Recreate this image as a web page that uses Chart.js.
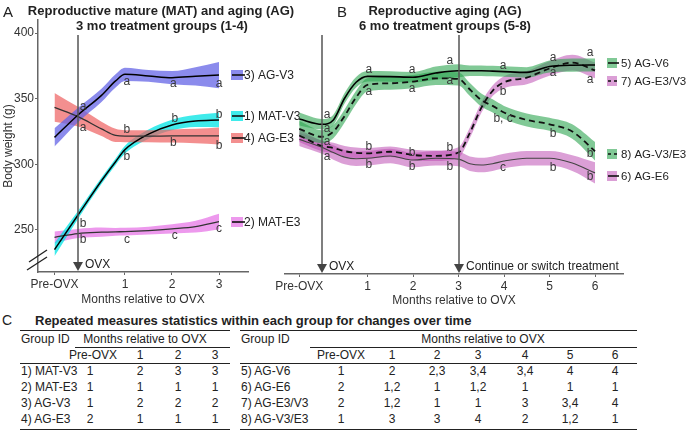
<!DOCTYPE html>
<html><head><meta charset="utf-8">
<script src="https://cdn.jsdelivr.net/npm/chart.js@4.4.1/dist/chart.umd.min.js"></script>
<style>
html,body{margin:0;padding:0;background:#fff;}
body{width:688px;height:432px;position:relative;overflow:hidden;font-family:"Liberation Sans",Arial,Helvetica,sans-serif;color:#222;}
.t{position:absolute;white-space:nowrap;line-height:14px;font-size:12px;}
.r{position:absolute;border-top:1.5px solid #222;height:0;}
canvas{position:absolute;top:0;}
</style></head><body>
<canvas id="cA" width="310" height="310" style="left:0px;width:310px;height:310px"></canvas>
<canvas id="cB" width="438" height="310" style="left:250px;width:438px;height:310px"></canvas>
<div id="txt"></div>
<script>
// ---------------- DATA ----------------
// Panel A (months relative to OVX; -0.5 = Pre-OVX)
const monthsA = [-0.5, 0, 0.5, 0.8, 1, 1.5, 2, 2.5, 3];
const agV3    = [320.5, 337.6, 352.5, 363.5, 368.5, 367.3, 366, 367, 368];
const agV3Err = [7, 5.5, 5, 5, 5, 4.5, 5, 7, 10];
const matV3    = [235, 261.4, 287.5, 302, 311.2, 323, 330, 333, 333.8];
const matV3Err = [5, 3, 2.5, 2.5, 3, 3.5, 4, 4.5, 5.5];
const agE3    = [343.4, 336.3, 327, 322, 321.4, 321.4, 321.6, 321.6, 321.6];
const agE3Err = [11, 7.5, 5.5, 5, 4.5, 4.5, 5, 5.5, 6.5];
const matE3    = [244.4, 247.3, 248.3, 248.6, 248.7, 249.5, 250.8, 252.5, 256.3];
const matE3Err = [4.5, 3.5, 3.5, 3, 3, 3, 3.5, 4.5, 6];
const xTicksA = [-0.5, 1, 2, 3];
const yTicks = [250, 300, 350, 400];

// Panel B
const monthsB = [-0.5, 0, 0.25, 0.5, 0.75, 1, 1.5, 2, 2.5, 3, 3.25, 3.5, 3.75, 4, 4.5, 5, 5.5, 6];
const agV6     = [334.5, 330.5, 333.8, 350.5, 362.5, 367, 366.8, 366.3, 369.5, 371.3, 371.3, 371.3, 371, 370.6, 370, 374.5, 375.5, 375.6];
const agV6Err  = [5, 4, 4, 4, 4, 4, 4, 4, 5, 5, 4, 4, 4, 4, 4, 4.5, 5, 5];
const agE3V3    = [322, 314, 312.5, 310, 308.8, 308.4, 309.6, 307.1, 306.5, 309, 324, 343, 356, 362.5, 366, 373, 377.4, 371.5];
const agE3V3Err = [5, 4, 4, 4, 4, 4, 4, 4, 4, 4, 4, 4, 4, 4.5, 5, 5.5, 6, 6];
const agV3E3    = [327, 321, 324.9, 337, 351, 360.5, 361.7, 363, 365.5, 365, 357, 349, 344.5, 339.5, 333.8, 330.5, 325, 310];
const agV3E3Err = [6, 5, 5, 5, 5, 5, 5, 5, 5, 5, 5, 5, 5, 5, 5, 5, 5.5, 7];
const agE6    = [319, 313, 309, 305.5, 304.3, 304.6, 306.4, 303.3, 304.6, 304, 300.5, 299.5, 300.5, 302.5, 304.6, 304.6, 301, 293.5];
const agE6Err = [5, 5, 5.5, 5.5, 5.5, 5.5, 5.5, 5.5, 5.5, 5.5, 5.5, 5.5, 5.5, 5.5, 5.5, 5.5, 6, 8];
const xTicksB = [-0.5, 1, 2, 3, 4, 5, 6];

// Significance letters [month, grams, text]
const lettersA = [
  [0.11,343.7,'a'],[1.04,362.7,'a'],[2.03,361.2,'a'],[3,361.2,'a'],
  [0.11,327.7,'a'],[1.04,326.1,'b'],[2.03,316.2,'b'],[3,314,'b'],
  [0.11,254.6,'b'],[1.04,305.6,'b'],[2.06,334.5,'b'],[3,337.6,'b'],
  [0.11,242.4,'b'],[1.04,242.4,'c'],[2.06,245.4,'c'],[3,250.8,'c']
];
const lettersB = [
  [0.11,337.6,'a'],[1.03,371.8,'a'],[1.98,371.8,'a'],[2.81,378.7,'a'],[3.98,374.9,'a'],[5.08,381,'a'],[5.89,384.8,'a'],
  [0.11,326.9,'a'],[1.03,355.1,'a'],[1.98,357.4,'a'],[2.81,363.5,'a'],[3.98,334.5,'b, c'],[5.08,323.1,'b'],[5.89,307.9,'b'],
  [0.11,317,'a'],[1.03,313.2,'b'],[1.98,308.6,'b'],[2.81,312.4,'b'],[3.98,355.1,'b'],[5.08,369.5,'a'],[5.89,364.2,'a'],
  [0.11,305.6,'a'],[1.03,299.5,'b'],[1.98,298,'b'],[2.81,298,'b'],[3.98,297.2,'c'],[5.08,297.2,'b'],[5.89,290.4,'b']
];

// Table C
const tblLeftGroups = ['1) MAT-V3','2) MAT-E3','3) AG-V3','4) AG-E3'];
const tblLeftCols = ['Pre-OVX','1','2','3'];
const tblLeftVals = [['1','2','3','3'],['1','1','1','1'],['1','2','2','2'],['2','1','1','1']];
const tblRightGroups = ['5) AG-V6','6) AG-E6','7) AG-E3/V3','8) AG-V3/E3'];
const tblRightCols = ['Pre-OVX','1','2','3','4','5','6'];
const tblRightVals = [
  ['1','2','2,3','3,4','3,4','4','4'],
  ['2','1,2','1','1,2','1','1','1'],
  ['2','1,2','1','1','3','3,4','4'],
  ['1','3','3','4','2','1,2','1']
];

// ---------------- STYLE ----------------
const FF = '"Liberation Sans", Arial, Helvetica, sans-serif';
const C_BLUE = 'rgba(100,100,230,0.75)';
const C_CYAN = 'rgba(0,228,228,0.75)';
const C_RED = 'rgba(238,95,95,0.7)';
const C_MAG = 'rgba(230,110,230,0.7)';
const C_GREEN = 'rgba(45,165,80,0.6)';
const C_PINK = 'rgba(190,80,180,0.55)';

function band(xs, mean, err, color, ls) {
  const common = {pointRadius:0, pointHoverRadius:0, cubicInterpolationMode:'monotone'};
  return [
    Object.assign({data: xs.map((m,i)=>({x:m, y:mean[i]+err[i]})), backgroundColor:color, borderColor:'rgba(0,0,0,0)', borderWidth:0, fill:'+1', order:2}, common),
    Object.assign({data: xs.map((m,i)=>({x:m, y:mean[i]-err[i]})), backgroundColor:color, borderColor:'rgba(0,0,0,0)', borderWidth:0, fill:false, order:2}, common),
    Object.assign({data: xs.map((m,i)=>({x:m, y:mean[i]})), borderColor:ls.color, borderWidth:ls.width, borderDash:ls.dash||[], fill:false, order:1}, common)
  ];
}

const annotPlugin = {
  id:'annot',
  afterDatasetsDraw(chart, args, o) {
    const {ctx, chartArea} = chart;
    const x = chart.scales.x, y = chart.scales.y;
    ctx.save();
    // arrows
    o.arrows.forEach(a => {
      const px = Math.round(x.getPixelForValue(a.m));
      const top = y.getPixelForValue(398.5);
      const bot = chartArea.bottom - 1;
      ctx.strokeStyle = '#555'; ctx.lineWidth = 1.5; ctx.setLineDash([]);
      ctx.beginPath(); ctx.moveTo(px, top); ctx.lineTo(px, bot - 8); ctx.stroke();
      ctx.fillStyle = '#444';
      ctx.beginPath(); ctx.moveTo(px - 5, bot - 9); ctx.lineTo(px + 5, bot - 9); ctx.lineTo(px, bot); ctx.closePath(); ctx.fill();
      ctx.fillStyle = '#222'; ctx.font = '12px ' + FF; ctx.textAlign = 'left'; ctx.textBaseline = 'middle';
      ctx.fillText(a.label, px + 7, bot - 6);
    });
    // letters
    ctx.font = '12px ' + FF; ctx.fillStyle = '#3a3a3a'; ctx.textAlign = 'center'; ctx.textBaseline = 'middle';
    o.letters.forEach(([m, v, t]) => ctx.fillText(t, x.getPixelForValue(m), y.getPixelForValue(v)));
    // legend
    o.legend.forEach(it => {
      ctx.fillStyle = it.color;
      ctx.fillRect(it.x, it.y - 5, it.w, 10);
      ctx.strokeStyle = '#111'; ctx.lineWidth = 1.6;
      ctx.setLineDash(it.dash ? [3, 3] : []);
      ctx.beginPath(); ctx.moveTo(it.x + 1, it.y); ctx.lineTo(it.x + it.w + 2, it.y); ctx.stroke();
      ctx.setLineDash([]);
      ctx.fillStyle = '#222'; ctx.textAlign = 'left'; ctx.textBaseline = 'middle';
      ctx.font = (it.fs || 12) + 'px ' + FF;
      ctx.fillText(it.text, it.x + it.w + it.gap, it.y + 0.5);
    });
    // axis break marks
    if (o.breakMarks) {
      ctx.strokeStyle = '#222'; ctx.lineWidth = 1.3;
      ctx.beginPath(); ctx.moveTo(29, 262); ctx.lineTo(47, 250); ctx.stroke();
      ctx.beginPath(); ctx.moveTo(27, 270); ctx.lineTo(47, 257); ctx.stroke();
    }
    ctx.restore();
  }
};

function axisX(ticks, min, max, h, pb) {
  return {
    type:'linear', min, max,
    afterBuildTicks: s => { s.ticks = ticks.map(v => ({value:v})); },
    afterFit: s => { s.height = h; },
    ticks: {autoSkip:false, maxRotation:0, padding:2, color:'#333', font:{family:FF, size:12},
      callback: v => v < 0 ? 'Pre-OVX' : String(v)},
    grid: {display:true, drawOnChartArea:false, drawTicks:true, tickLength:3, color:'#666'},
    border: {display:true, color:'#666', width:1.5},
    title: {display:true, text:'Months relative to OVX', color:'#333', font:{family:FF, size:12}, padding:{top:0, bottom:pb}}
  };
}

const common = {type:'line', plugins:[annotPlugin]};

new Chart(document.getElementById('cA'), Object.assign({}, common, {
  data: {datasets: [].concat(
    band(monthsA, agV3, agV3Err, C_BLUE, {color:'#000', width:1.5}),
    band(monthsA, agE3, agE3Err, C_RED, {color:'#333', width:1.3}),
    band(monthsA, matV3, matV3Err, C_CYAN, {color:'#000', width:1.5}),
    band(monthsA, matE3, matE3Err, C_MAG, {color:'#333', width:1.3})
  )},
  options: {
    responsive:false, animation:false, events:[],
    layout:{padding:{top:20, right:62, left:0, bottom:0}},
    plugins:{legend:{display:false}, tooltip:{enabled:false},
      annot:{
        arrows:[{m:0, label:'OVX'}],
        letters: lettersA,
        breakMarks:true,
        legend:[
          {x:231, y:75, w:12, gap:1, color:C_BLUE, text:'3) AG-V3'},
          {x:231, y:116, w:12, gap:1, color:C_CYAN, text:'1) MAT-V3'},
          {x:231, y:138, w:12, gap:1, color:C_RED, text:'4) AG-E3'},
          {x:231, y:222, w:12, gap:1, color:C_MAG, text:'2) MAT-E3'}
        ]
      }},
    scales: {
      x: axisX(xTicksA, -0.851, 3.617, 38, 3),
      y: {
        type:'linear', min:218, max:409.9,
        afterBuildTicks: s => { s.ticks = yTicks.map(v => ({value:v})); },
        afterFit: s => { s.width = 38; },
        ticks:{padding:1, color:'#333', font:{family:FF, size:12}},
        grid:{display:true, drawOnChartArea:false, drawTicks:true, tickLength:3, color:'#666'},
        border:{display:true, color:'#666', width:1.5},
        title:{display:true, text:'Body weight (g)', color:'#333', font:{family:FF, size:12}, padding:{top:1, bottom:0}}
      }
    }
  }
}));

new Chart(document.getElementById('cB'), Object.assign({}, common, {
  data: {datasets: [].concat(
    band(monthsB, agV6, agV6Err, C_GREEN, {color:'#000', width:1.6}),
    band(monthsB, agV3E3, agV3E3Err, C_GREEN, {color:'#111', width:1.8, dash:[6,4]}),
    band(monthsB, agE3V3, agE3V3Err, C_PINK, {color:'#111', width:1.8, dash:[6,4]}),
    band(monthsB, agE6, agE6Err, C_PINK, {color:'#444', width:1.1})
  )},
  options: {
    responsive:false, animation:false, events:[],
    layout:{padding:{top:20, right:65, left:35, bottom:0}},
    plugins:{legend:{display:false}, tooltip:{enabled:false},
      annot:{
        arrows:[{m:0, label:'OVX'}, {m:3, label:'Continue or switch treatment'}],
        letters: lettersB,
        breakMarks:false,
        legend:[
          {x:357, y:63, w:10, gap:4, fs:11.5, color:C_GREEN, text:'5) AG-V6'},
          {x:357, y:81, w:10, gap:4, fs:11.5, color:C_PINK, dash:true, text:'7) AG-E3/V3'},
          {x:357, y:154, w:10, gap:4, fs:11.5, color:C_GREEN, dash:true, text:'8) AG-V3/E3'},
          {x:357, y:176, w:10, gap:4, fs:11.5, color:C_PINK, text:'6) AG-E6'}
        ]
      }},
    scales: {
      x: axisX(xTicksB, -0.813, 6.615, 36, 2),
      y: {type:'linear', display:false, min:216.5, max:409.9}
    }
  }
}));

// ---------------- TEXT / TABLE ----------------
const host = document.getElementById('txt');
function txt(x, yc, s, opt) {
  opt = opt || {};
  const d = document.createElement('div');
  d.className = 't';
  d.textContent = s;
  const fs = opt.size || 12;
  d.style.fontSize = fs + 'px';
  d.style.lineHeight = (fs + 2) + 'px';
  d.style.top = (yc - (fs + 2) / 2) + 'px';
  if (opt.bold) d.style.fontWeight = 'bold';
  if (opt.center) { d.style.left = (x - 150) + 'px'; d.style.width = '300px'; d.style.textAlign = 'center'; }
  else d.style.left = x + 'px';
  host.appendChild(d);
}
function rule(x1, x2, y) {
  const d = document.createElement('div');
  d.className = 'r';
  d.style.left = x1 + 'px'; d.style.width = (x2 - x1) + 'px'; d.style.top = (y - 0.75) + 'px';
  host.appendChild(d);
}
txt(3, 11, 'A', {size:15});
txt(161, 10, 'Reproductive mature (MAT) and aging (AG)', {size:13, bold:true, center:true});
txt(162, 25, '3 mo treatment groups (1-4)', {size:13, bold:true, center:true});
txt(337, 11, 'B', {size:15});
txt(445, 10, 'Reproductive aging (AG)', {size:13, bold:true, center:true});
txt(445, 25, '6 mo treatment groups (5-8)', {size:13, bold:true, center:true});
txt(2, 320, 'C', {size:14});
txt(35, 320, 'Repeated measures statistics within each group for changes over time', {size:13, bold:true});

const rowY = [371, 387, 403, 419];
// left table
const lColX = [90, 140, 178, 215];
rule(20, 230, 331);
txt(21, 339, 'Group ID');
txt(145, 339, 'Months relative to OVX', {center:true});
rule(75, 230, 348);
tblLeftCols.forEach((c, i) => txt(i === 0 ? 93 : lColX[i], 355, c, {center:true}));
rule(20, 230, 364);
tblLeftGroups.forEach((g, r) => {
  txt(21, rowY[r], g);
  tblLeftVals[r].forEach((v, i) => txt(lColX[i], rowY[r], v, {center:true}));
});
rule(20, 230, 430);
// right table
const rColX = [341, 392, 437, 478, 525, 570, 615];
rule(240, 637, 331);
txt(241, 339, 'Group ID');
txt(483, 339, 'Months relative to OVX', {center:true});
rule(310, 637, 348);
tblRightCols.forEach((c, i) => txt(rColX[i], 355, c, {center:true}));
rule(240, 637, 364);
tblRightGroups.forEach((g, r) => {
  txt(241, rowY[r], g);
  tblRightVals[r].forEach((v, i) => txt(rColX[i], rowY[r], v, {center:true}));
});
rule(240, 637, 430);
</script>
</body></html>
